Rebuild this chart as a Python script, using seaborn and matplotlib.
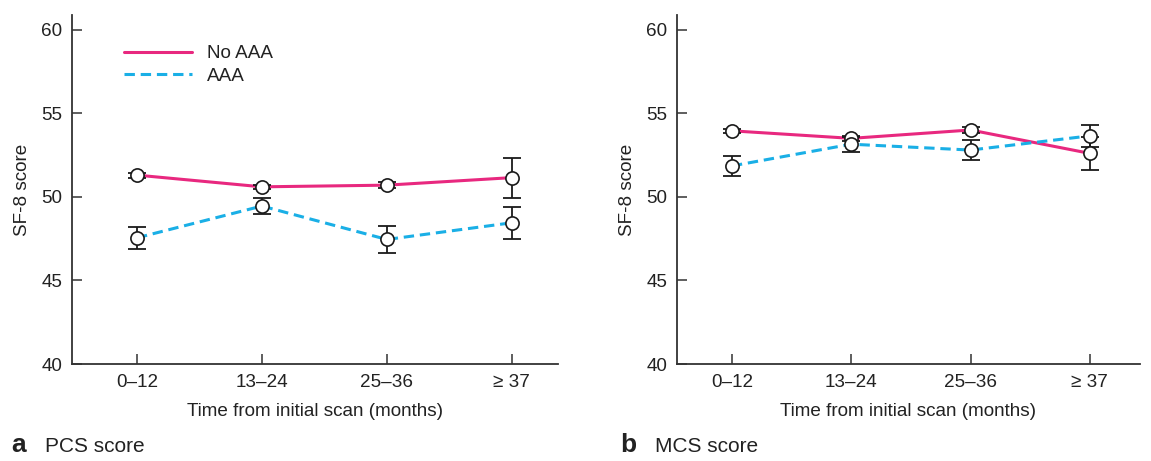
import numpy as np
import pandas as pd
import matplotlib
matplotlib.use("Agg")
import matplotlib.pyplot as plt
import seaborn as sns

categories = ["0\u201312", "13\u201324", "25\u201336", "\u2265 37"]

pcs_no_aaa = [51.3, 50.6, 50.7, 51.15]
pcs_no_aaa_err = [0.15, 0.12, 0.2, 1.2]
pcs_aaa = [47.55, 49.45, 47.45, 48.45]
pcs_aaa_err = [0.65, 0.5, 0.8, 0.95]

mcs_no_aaa = [53.95, 53.5, 54.0, 52.6]
mcs_no_aaa_err = [0.1, 0.15, 0.15, 1.0]
mcs_aaa = [51.85, 53.15, 52.8, 53.65]
mcs_aaa_err = [0.62, 0.45, 0.6, 0.65]

groups = ["No AAA", "AAA"]
colors = {"No AAA": "#E8287F", "AAA": "#1AAFE6"}

sns.set_theme(style="ticks")
plt.rcParams["font.family"] = ["Liberation Sans", "DejaVu Sans"]

FS = 13.6

fig = plt.figure(figsize=(11.51, 4.61), dpi=100)
axA = fig.add_axes([72/1151, 1-364/461, (558-72)/1151, (364-15)/461])
axB = fig.add_axes([677/1151, 1-364/461, (1140-677)/1151, (364-15)/461])


def draw(ax, no_vals, no_err, aaa_vals, aaa_err, xlim, legend):
    df = pd.DataFrame({
        "time": categories * 2,
        "score": list(no_vals) + list(aaa_vals),
        "group": ["No AAA"] * 4 + ["AAA"] * 4,
    })
    sns.lineplot(data=df, x="time", y="score", hue="group", style="group",
                 hue_order=groups, style_order=groups,
                 palette=colors, dashes={"No AAA": "", "AAA": (3.4, 1.9)},
                 linewidth=2.2, ax=ax, legend=legend, sort=False, zorder=2)
    xs = np.arange(len(categories))
    for vals, err in [(no_vals, no_err), (aaa_vals, aaa_err)]:
        ax.errorbar(xs, vals, yerr=err, fmt="none", ecolor="#1a1a1a",
                    elinewidth=1.3, capsize=6.5, capthick=1.3, zorder=3)
        ax.plot(xs, vals, "o", markersize=9.5, markerfacecolor="white",
                markeredgecolor="#1a1a1a", markeredgewidth=1.2,
                linestyle="none", zorder=4)
    ax.set_xlim(*xlim)
    ax.set_ylim(40, 60.88)
    ax.set_yticks([40, 45, 50, 55, 60])
    ax.set_xticks(xs)
    ax.set_xticklabels(categories)
    ax.tick_params(axis="both", direction="in", length=7, width=1.1,
                   colors="#333333", labelsize=FS, labelcolor="#222222")
    ax.tick_params(axis="y", pad=7)
    ax.tick_params(axis="x", pad=7)
    sns.despine(ax=ax)
    for s in ["left", "bottom"]:
        ax.spines[s].set_color("#333333")
        ax.spines[s].set_linewidth(1.3)
    ax.set_xlabel("Time from initial scan (months)", fontsize=FS,
                  color="#222222", labelpad=9)
    ax.set_ylabel("SF-8 score", fontsize=FS, color="#222222", labelpad=7)
    ax.set_facecolor("white")


draw(axA, pcs_no_aaa, pcs_no_aaa_err, pcs_aaa, pcs_aaa_err, (-0.52, 3.37), True)
draw(axB, mcs_no_aaa, mcs_no_aaa_err, mcs_aaa, mcs_aaa_err, (-0.46, 3.42), False)

leg = axA.legend(loc="upper left", bbox_to_anchor=(0.073, 0.963), frameon=False,
                 fontsize=FS, handlelength=3.6, handletextpad=0.75,
                 labelspacing=0.3, title=None)
for t in leg.get_texts():
    t.set_color("#222222")

fig.text(11/1151, 1-452/461, "a", fontsize=19, fontweight="bold",
         color="#222222", va="baseline")
fig.text(45/1151, 1-452/461, "PCS score", fontsize=15, color="#222222",
         va="baseline")
fig.text(620/1151, 1-452/461, "b", fontsize=19, fontweight="bold",
         color="#222222", va="baseline")
fig.text(655/1151, 1-452/461, "MCS score", fontsize=15, color="#222222",
         va="baseline")

fig.savefig("out.png", dpi=100, facecolor="white")
